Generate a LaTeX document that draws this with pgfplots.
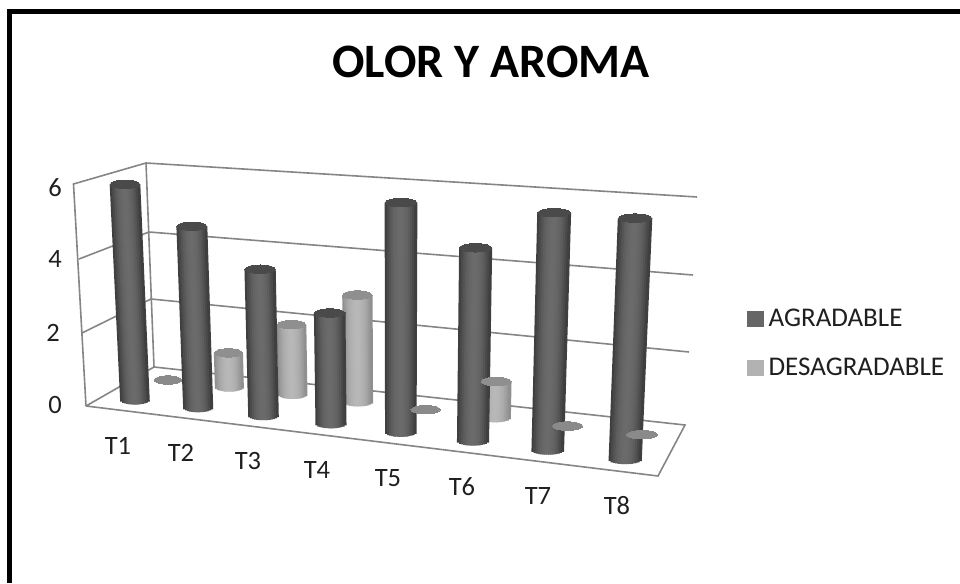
\documentclass[border=0pt]{standalone}
\usepackage{fontspec}
\setmainfont{Carlito}
\usepackage{pgfplots}
\usepackage{pgfplotstable}
\pgfplotsset{compat=1.18}

% perspective of the 3D chart: category i, depth d, value v -> picture position
\pgfmathdeclarefunction{pw}{3}{\pgfmathparse{1-.0159*#1+.0378*#2-.00617*#3}}
\pgfmathdeclarefunction{px}{3}{\pgfmathparse{(135+60.08*#1+39.35*#2-2.44*#3)/pw(#1,#2,#3)}}
\pgfmathdeclarefunction{py}{3}{\pgfmathparse{(400+1.2*#1-5.64*#2-37.1*#3)/pw(#1,#2,#3)}}

\pgfplotstableread{
cat agradable desagradable
0 6 0
1 5 1
2 4 2
3 3 3
4 6 0
5 5 1
6 6 0
7 6 0
}\olor

% #1 category, #2 depth, #3 value, #4 centre grey, #5 edge grey, #6 top grey (percent black)
\newcommand\cyl[6]{%
  \pgfmathsetmacro\xb{px(#1,#2,0)}%
  \pgfmathsetmacro\yb{py(#1,#2,0)}%
  \pgfmathsetmacro\xt{px(#1,#2,#3)}%
  \pgfmathsetmacro\yt{py(#1,#2,#3)}%
  \pgfmathsetmacro\rb{14.3/pw(#1,#2,0)}%
  \pgfmathsetmacro\rt{14.3/pw(#1,#2,#3)}%
  \pgfmathsetmacro\lw{2*\rb/15+1}%
  \ifdim #3pt>0pt
  \pgfplotsforeachungrouped \k in {0,...,14}{%
    \pgfmathsetmacro\f{(\k-7)/7.5}%
    \pgfmathsetmacro\g{#4+(#5-#4)*\f*\f}%
    \pgfmathsetmacro\xa{\xb+\rb*\f}%
    \pgfmathsetmacro\ya{\yb+4.6*sqrt(1-\f*\f)}%
    \pgfmathsetmacro\xc{\xt+\rt*\f}%
    \edef\tmp{\noexpand\addplot[forget plot,line width=\lw pt,draw=black!\g] coordinates {(\xa,\ya) (\xc,\yt)};}%
    \tmp
  }%
  \fi
  \pgfmathsetmacro\ys{4.2/\rt}%
  \edef\tmp{\noexpand\addplot[forget plot,only marks,mark=*,mark size=\rt pt,
    mark options={draw=black!#6,fill=black!#6,line width=0pt,yscale=\ys}] coordinates {(\xt,\yt)};}%
  \tmp
}

\tikzset{lab/.style={font=\fontsize{26.5}{26.5}\selectfont,text=black!88}}

\begin{document}
\begin{tikzpicture}
\begin{axis}[
    width=960pt, height=583pt, scale only axis,
    xmin=0, xmax=960, ymin=0, ymax=583, y dir=reverse,
    axis lines=none,
    legend image code/.code={\fill[#1] (0pt,-7.5pt) rectangle (16pt,7.5pt);},
    legend style={at={(axis cs:747,309)},anchor=north west,draw=none,fill=none,
      inner sep=0pt,font=\fontsize{27}{27}\selectfont,text=black!88,row sep=30pt,
      nodes={inner sep=0pt},
      /tikz/column 1/.style={column sep=5pt}},
    legend cell align=left,
    ]
% keeps the whole page
\path (axis cs:0,0) rectangle (axis cs:960,583);

% outer frame
\addplot[forget plot,black,line width=5pt] coordinates {(9.5,583) (9.5,11.5) (960,11.5)};

% walls and floor
\addplot[forget plot,draw=black!48,line width=1.6pt] coordinates {(86,406) (73.5,184) (146,163) (697,197)};
\addplot[forget plot,draw=black!48,line width=1.6pt] coordinates {(79,259) (149,232) (693,275)};
\addplot[forget plot,draw=black!48,line width=1.6pt] coordinates {(82,333) (151,299) (689,352)};
\addplot[forget plot,draw=black!48,line width=1.6pt] coordinates {(146,163) (154,367)};
\addplot[forget plot,draw=black!48,line width=1.6pt] coordinates {(86,406) (658,476) (685,425) (154,367) (86,406)};

% back row, then front row
\pgfplotsforeachungrouped \r in {0,...,7}{%
  \pgfplotstablegetelem{\r}{desagradable}\of\olor
  \let\val\pgfplotsretval
  \ifdim \val pt>0pt
    \cyl{\r}{1}{\val}{28}{46}{44}%
  \else
    \cyl{\r}{1}{\val}{28}{46}{46}%
  \fi
}
\pgfplotsforeachungrouped \r in {0,...,7}{%
  \pgfplotstablegetelem{\r}{agradable}\of\olor
  \let\val\pgfplotsretval
  \cyl{\r}{0}{\val}{58}{78}{71}%
}

\addlegendimage{black!60,fill=black!60}
\addlegendentry{AGRADABLE}
\addlegendimage{black!30,fill=black!30}
\addlegendentry{DESAGRADABLE}

% title and axis texts
\node[font=\fontsize{48}{48}\selectfont\bfseries] at (axis cs:491,62) {OLOR Y AROMA};
\node[lab] at (axis cs:55,188) {6};
\node[lab] at (axis cs:55,259) {4};
\node[lab] at (axis cs:53,333) {2};
\node[lab] at (axis cs:55,405) {0};
\node[lab] at (axis cs:118,446) {T1};
\node[lab] at (axis cs:181,453) {T2};
\node[lab] at (axis cs:248,461) {T3};
\node[lab] at (axis cs:317,470) {T4};
\node[lab] at (axis cs:388,478) {T5};
\node[lab] at (axis cs:462,487) {T6};
\node[lab] at (axis cs:538,496) {T7};
\node[lab] at (axis cs:617,506) {T8};
\end{axis}
\end{tikzpicture}
\end{document}
